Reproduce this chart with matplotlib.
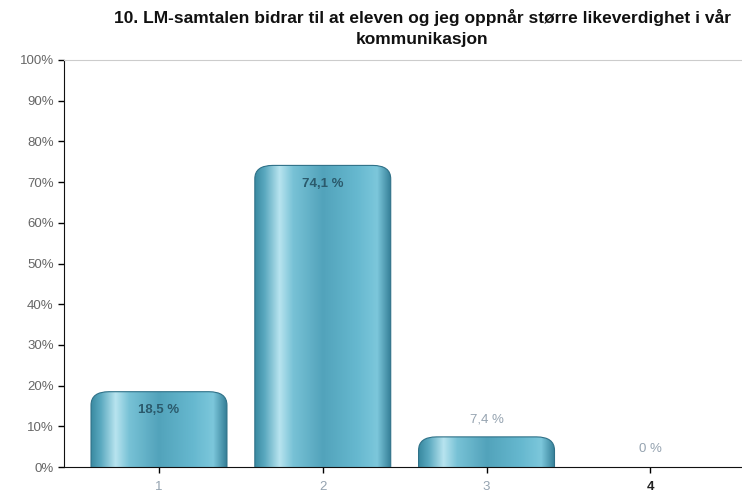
import numpy as np
from matplotlib import pyplot as plt
from matplotlib.patches import FancyBboxPatch
from matplotlib.colors import LinearSegmentedColormap
from matplotlib.ticker import FuncFormatter

plt.rcParams['font.family'] = ['Liberation Sans', 'DejaVu Sans']

# svarfordeling
kategorier = ['1', '2', '3', '4']
andel = [18.5, 74.1, 7.4, 0.0]
tittel = '10. LM-samtalen bidrar til at eleven og jeg oppnår større likeverdighet i vår\nkommunikasjon'

# sylinder-skygge på tvers av søylen
cmap = LinearSegmentedColormap.from_list('syl', [
    (0.00, '#3a8aa2'), (0.07, '#5aa9bf'), (0.18, '#b8e4ef'),
    (0.28, '#78c2d6'), (0.50, '#52a3bb'), (0.75, '#66b8cf'),
    (0.90, '#7cc7db'), (1.00, '#357f97')])
grad = np.linspace(0, 1, 256).reshape(1, -1)

fig = plt.figure(figsize=(7.42, 4.92), dpi=100)
ax = fig.add_axes([64 / 742, 25 / 492, 678 / 742, 407 / 492])

x = np.arange(1, len(kategorier) + 1)
bredde = 0.83
for xi, v in zip(x, andel):
    if v <= 0:
        continue
    x0 = xi - bredde / 2
    boks = FancyBboxPatch((x0, -5), bredde, v + 5,
                          boxstyle='round,pad=0,rounding_size=0.11',
                          mutation_aspect=30, facecolor='none',
                          edgecolor='#2f7188', linewidth=0.8, zorder=3)
    ax.add_patch(boks)
    im = ax.imshow(grad, cmap=cmap, extent=(x0, x0 + bredde, -5, v),
                   aspect='auto', zorder=2)
    im.set_clip_path(boks)

for xi, v in zip(x, andel):
    tekst = '{:.1f} %'.format(v).replace('.', ',') if v % 1 else '{:.0f} %'.format(v)
    if v > 10:
        ax.text(xi, v - 4.5, tekst, ha='center', va='center', fontsize=9.5,
                fontweight='bold', color='#2b5a6c', zorder=4)
    else:
        ax.text(xi, v + 4.3, tekst, ha='center', va='center', fontsize=9.5,
                color='#95a3b0', zorder=4)

ax.set_xlim(0.42, 4.56)
ax.set_ylim(0, 100)
ax.set_xticks(x)
ax.set_xticklabels(kategorier)
for lbl, c in zip(ax.get_xticklabels(), ['#95a3b0', '#95a3b0', '#95a3b0', '#222222']):
    lbl.set_color(c)
ax.get_xticklabels()[3].set_fontweight('bold')
ax.set_yticks(np.arange(0, 101, 10))
ax.yaxis.set_major_formatter(FuncFormatter(lambda v, p: '{:.0f}%'.format(v)))
ax.tick_params(axis='y', labelsize=9.5, labelcolor='#666666', length=4, width=1)
ax.tick_params(axis='x', labelsize=9.5, length=4, width=1, pad=6)
ax.spines['right'].set_visible(False)
ax.spines['top'].set_color('#cccccc')
ax.spines['left'].set_color('#111111')
ax.spines['bottom'].set_color('#111111')

fig.text(422 / 742, 1 - 28 / 492, tittel, ha='center', va='center',
         fontsize=12.5, fontweight='bold', linespacing=1.5, color='#111111')

plt.savefig('out.png', dpi=100)
